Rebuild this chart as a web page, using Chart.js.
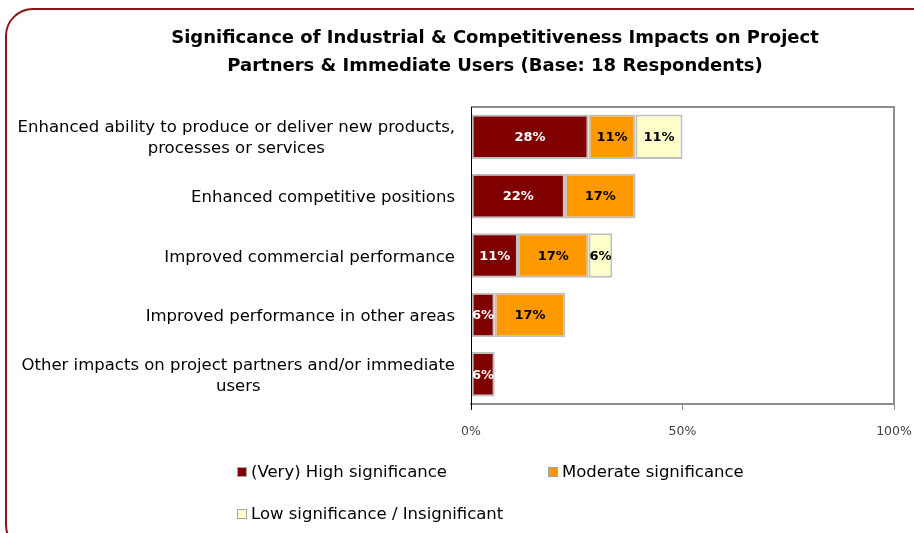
<!DOCTYPE html>
<html>
<head>
<meta charset="utf-8">
<script src="https://cdn.jsdelivr.net/npm/chart.js@4.4.1/dist/chart.umd.min.js"></script>
<style>
  html, body { margin: 0; padding: 0; background: #fff; }
  #wrap { position: relative; width: 914px; height: 533px; overflow: hidden; background: #fff; }
  #frame { position: absolute; left: 5px; top: 8px; width: 945px; height: 545px; border: 2px solid #8c1515; border-radius: 28px; box-sizing: border-box; pointer-events: none; }
  canvas { position: absolute; left: 0; top: 0; }
  .lg { position: absolute; font-family: "DejaVu Sans", sans-serif; font-size: 16.5px; color: #000; white-space: nowrap; line-height: 20px; }
  .lg .box { display: inline-block; width: 8px; height: 8px; border: 1.5px solid #a6a6a6; margin-right: 4px; vertical-align: 0px; }
</style>
</head>
<body>
<div id="wrap">
  <canvas id="c" width="914" height="533"></canvas>
  <div id="frame"></div>
  <div id="legend"></div>
</div>
<script>
const titleLines = ["Significance of Industrial & Competitiveness Impacts on Project", "Partners & Immediate Users (Base: 18 Respondents)"];
const categories = [
  ["Enhanced ability to produce or deliver new products,", "processes or services"],
  "Enhanced competitive positions",
  "Improved commercial performance",
  "Improved performance in other areas",
  ["Other impacts on project partners and/or immediate", "users"]
];
const seriesNames = ["(Very) High significance", "Moderate significance", "Low significance / Insignificant"];
const highValues = [27.8, 22.2, 11.1, 5.6, 5.6];
const moderateValues = [11.1, 16.7, 16.7, 16.7, 0];
const lowValues = [11.1, 0, 5.6, 0, 0];
const seriesColors = ["#800000", "#ff9900", "#ffffcc"];
const labelColors = ["#ffffff", "#000000", "#000000"];
const xTicks = [0, 50, 100];

const seriesValues = [highValues, moderateValues, lowValues];

const valueLabels = {
  id: 'valueLabels',
  afterDatasetsDraw(chart) {
    const ctx = chart.ctx;
    ctx.save();
    ctx.font = 'bold 13px "DejaVu Sans", sans-serif';
    ctx.textAlign = 'center';
    ctx.textBaseline = 'middle';
    chart.data.datasets.forEach((ds, di) => {
      const meta = chart.getDatasetMeta(di);
      meta.data.forEach((el, i) => {
        const v = ds.data[i];
        if (!v) return;
        const p = el.getCenterPoint();
        ctx.fillStyle = labelColors[di];
        ctx.fillText(Math.round(v) + '%', p.x, p.y + 1);
      });
    });
    ctx.restore();
  }
};

// category labels: block right-aligned to the axis, lines centred within the block (as in the original)
const categoryLabels = {
  id: 'categoryLabels',
  afterDraw(chart) {
    const ctx = chart.ctx;
    const y = chart.scales.y;
    const right = chart.chartArea.left - 16;
    const lh = 21;
    ctx.save();
    ctx.font = '16.5px "DejaVu Sans", sans-serif';
    ctx.fillStyle = '#000';
    ctx.textAlign = 'center';
    ctx.textBaseline = 'middle';
    chart.data.labels.forEach((lab, i) => {
      const lines = Array.isArray(lab) ? lab : [lab];
      const w = Math.max(...lines.map(l => ctx.measureText(l).width));
      const cx = right - w / 2;
      const cy = y.getPixelForTick(i) + 2;
      lines.forEach((l, k) => {
        ctx.fillText(l, cx, cy + (k - (lines.length - 1) / 2) * lh);
      });
    });
    ctx.restore();
  }
};

const plotFrame = {
  id: 'plotFrame',
  afterLayout(chart) {
    // title is centred over the right-hand part of the figure in the original
    if (chart.titleBlock) { chart.titleBlock.left = 96; }
  },
  afterDraw(chart) {
    const a = chart.chartArea;
    const ctx = chart.ctx;
    ctx.save();
    ctx.strokeStyle = '#8c8c8c';
    ctx.lineWidth = 2;
    ctx.beginPath();
    ctx.moveTo(a.left, a.top);
    ctx.lineTo(a.right, a.top);
    ctx.lineTo(a.right, a.bottom);
    ctx.stroke();
    ctx.strokeStyle = '#000';
    ctx.lineWidth = 1;
    ctx.beginPath();
    ctx.moveTo(a.left + 0.5, a.top);
    ctx.lineTo(a.left + 0.5, a.bottom + 6);
    ctx.stroke();
    ctx.restore();
  }
};

new Chart(document.getElementById('c'), {
  type: 'bar',
  data: {
    labels: categories,
    datasets: seriesNames.map((n, i) => ({
      label: n,
      data: seriesValues[i],
      backgroundColor: seriesColors[i],
      borderColor: '#c0c0c0',
      borderWidth: 2,
      borderSkipped: false,
      categoryPercentage: 1,
      barPercentage: 0.75
    }))
  },
  options: {
    indexAxis: 'y',
    responsive: false,
    animation: false,
    events: [],
    layout: { padding: { left: 0, right: 20, top: 0, bottom: 95 } },
    plugins: {
      legend: { display: false },
      tooltip: { enabled: false },
      title: {
        display: true,
        text: titleLines,
        color: '#000',
        font: { family: '"DejaVu Sans", sans-serif', size: 18, weight: 'bold', lineHeight: 1.556 },
        padding: { top: 24, bottom: 27 }
      }
    },
    scales: {
      x: {
        stacked: true,
        min: 0, max: 100,
        afterBuildTicks(scale) { scale.ticks = xTicks.map(v => ({ value: v })); },
        afterFit(scale) { scale.height = 34; scale.paddingLeft = 0; scale.paddingRight = 0; },
        border: { display: true, color: '#8c8c8c', width: 2 },
        grid: { display: true, drawOnChartArea: false, drawTicks: true, tickLength: 6, color: '#8c8c8c', lineWidth: 1 },
        ticks: { callback: v => v + '%', color: '#404040', font: { family: '"DejaVu Sans", sans-serif', size: 12.5 }, padding: 14, maxRotation: 0 }
      },
      y: {
        stacked: true,
        afterFit(scale) { scale.width = 471; scale.paddingTop = 0; scale.paddingBottom = 0; },
        border: { display: false },
        grid: { display: false, drawTicks: false },
        ticks: { display: false }
      }
    }
  },
  plugins: [valueLabels, categoryLabels, plotFrame]
});

// legend built from the series arrays
const legendPos = [[237, 462], [548, 462], [237, 504]];
const lg = document.getElementById('legend');
seriesNames.forEach((n, i) => {
  const d = document.createElement('div');
  d.className = 'lg';
  d.style.left = legendPos[i][0] + 'px';
  d.style.top = legendPos[i][1] + 'px';
  const b = document.createElement('span');
  b.className = 'box';
  b.style.background = seriesColors[i];
  d.appendChild(b);
  d.appendChild(document.createTextNode(n));
  lg.appendChild(d);
});
</script>
</body>
</html>
